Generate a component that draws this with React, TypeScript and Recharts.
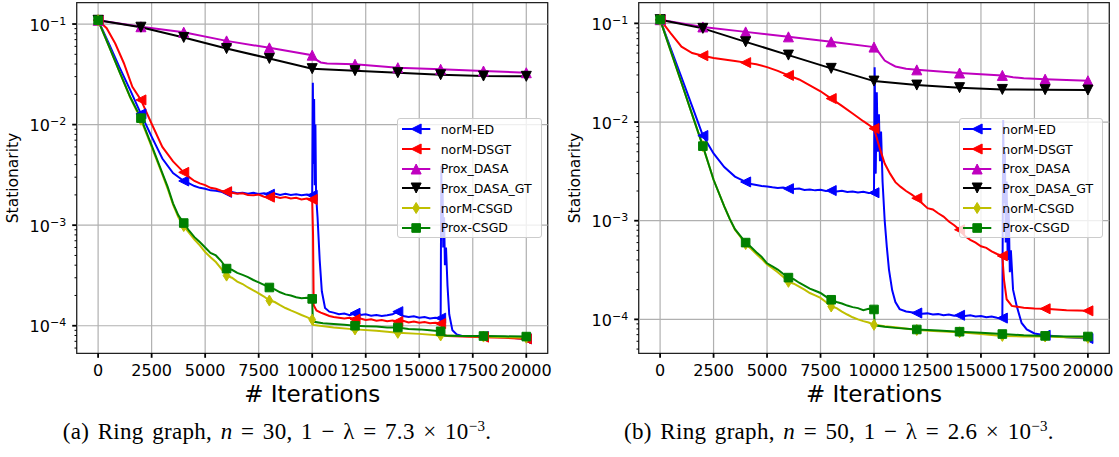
import {
  LineChart,
  Line,
  XAxis,
  YAxis,
  CartesianGrid,
  ReferenceLine,
  ReferenceArea,
} from "recharts";

type Pt = [number, number];

// ---- axis ticks ----
const xTicks = [0, 2500, 5000, 7500, 10000, 12500, 15000, 17500, 20000];
const yMajor = [1e-4, 1e-3, 1e-2, 1e-1];
const yMinor = [
  5e-5, 6e-5, 7e-5, 8e-5, 9e-5,
  2e-4, 3e-4, 4e-4, 5e-4, 6e-4, 7e-4, 8e-4, 9e-4,
  2e-3, 3e-3, 4e-3, 5e-3, 6e-3, 7e-3, 8e-3, 9e-3,
  2e-2, 3e-2, 4e-2, 5e-2, 6e-2, 7e-2, 8e-2, 9e-2,
];

// ---- (a) ring graph, n = 30 ----
const edA: Pt[] = [
  [0, 0.109], [500, 0.064], [1000, 0.037], [1500, 0.022], [2000, 0.0128], [2500, 7.6e-3],
  [3000, 4.6e-3], [3500, 3.3e-3], [4000, 2.75e-3], [4250, 2.6e-3], [4500, 2.45e-3], [4750, 2.35e-3],
  [5000, 2.3e-3], [5250, 2.22e-3], [5500, 2.2e-3], [5750, 2.15e-3], [6000, 2.12e-3], [6250, 2.14e-3],
  [6500, 2.08e-3], [6750, 2.1e-3], [7000, 2.05e-3], [7250, 2.1e-3], [7500, 2.04e-3], [7750, 2.08e-3],
  [8000, 2.03e-3], [8250, 2.06e-3], [8500, 2.0e-3], [8750, 2.05e-3], [9000, 2.0e-3], [9250, 2.03e-3],
  [9500, 1.98e-3], [9750, 2.02e-3], [10000, 1.98e-3], [10030, 0.026], [10060, 4e-3], [10090, 0.018],
  [10120, 2.5e-3], [10150, 0.01], [10180, 2.0e-3], [10250, 1.2e-3], [10350, 4.5e-4], [10450, 2.2e-4],
  [10600, 1.5e-4], [10800, 1.38e-4], [11000, 1.35e-4], [11250, 1.3e-4], [11500, 1.32e-4], [11750, 1.27e-4],
  [12000, 1.33e-4], [12100, 1.4e-4], [12250, 1.28e-4], [12500, 1.3e-4], [12750, 1.26e-4], [13000, 1.28e-4],
  [13250, 1.25e-4], [13500, 1.27e-4], [13750, 1.3e-4], [14000, 1.38e-4], [14250, 1.25e-4], [14500, 1.22e-4],
  [14750, 1.24e-4], [15000, 1.2e-4], [15250, 1.22e-4], [15500, 1.18e-4], [15750, 1.2e-4], [16000, 1.19e-4],
  [16030, 3.9e-3], [16060, 1.0e-3], [16090, 2.5e-3], [16120, 6e-4], [16160, 1.2e-3], [16200, 4e-4],
  [16250, 6e-4], [16320, 2.5e-4], [16400, 1.3e-4], [16550, 9.0e-5], [16750, 8.2e-5], [17000, 7.9e-5],
  [18000, 7.8e-5], [19000, 7.7e-5], [20000, 7.4e-5],
];
const dsgtA: Pt[] = [
  [0, 0.109], [400, 0.091], [800, 0.064], [1200, 0.041], [1600, 0.0238], [2000, 0.0176], [2500, 0.0102],
  [3000, 6.0e-3], [3500, 4.3e-3], [4000, 3.35e-3], [4250, 3.0e-3], [4500, 2.75e-3], [4750, 2.6e-3],
  [5000, 2.5e-3], [5250, 2.35e-3], [5500, 2.3e-3], [5750, 2.2e-3], [6000, 2.15e-3], [6250, 2.1e-3],
  [6500, 2.05e-3], [6750, 2.08e-3], [7000, 2.0e-3], [7250, 1.98e-3], [7500, 2.02e-3], [7750, 1.92e-3],
  [8000, 1.9e-3], [8250, 1.93e-3], [8500, 1.86e-3], [8750, 1.9e-3], [9000, 1.84e-3], [9250, 1.87e-3],
  [9500, 1.8e-3], [9750, 1.84e-3], [10000, 1.8e-3], [10040, 8e-4], [10070, 1.6e-4], [10200, 1.42e-4],
  [10400, 1.35e-4], [10600, 1.3e-4], [10800, 1.25e-4], [11000, 1.22e-4], [11250, 1.2e-4], [11500, 1.18e-4],
  [11750, 1.2e-4], [12000, 1.16e-4], [12250, 1.18e-4], [12500, 1.14e-4], [12750, 1.16e-4], [13000, 1.12e-4],
  [13250, 1.14e-4], [13500, 1.11e-4], [13750, 1.13e-4], [14000, 1.1e-4], [14250, 1.12e-4], [14500, 1.08e-4],
  [14750, 1.1e-4], [15000, 1.07e-4], [15250, 1.09e-4], [15500, 1.06e-4], [15750, 1.07e-4], [16000, 1.05e-4],
  [16050, 1.15e-4], [16100, 8.2e-5], [16300, 7.9e-5], [17000, 7.8e-5], [18000, 7.7e-5], [19000, 7.6e-5],
  [20000, 7.4e-5],
];
const dasaA: Pt[] = [
  [0, 0.109], [2000, 0.094], [4000, 0.083], [6000, 0.068], [8000, 0.058], [10000, 0.049], [10200, 0.044],
  [10400, 0.0415], [10700, 0.0405], [12000, 0.0398], [14000, 0.0368], [16000, 0.0355], [18000, 0.0341],
  [20000, 0.0328],
];
const dasaGtA: Pt[] = [
  [0, 0.109], [2000, 0.093], [4000, 0.0736], [6000, 0.057], [8000, 0.0455], [10000, 0.036], [12000, 0.0344],
  [14000, 0.0328], [16000, 0.0313], [18000, 0.0304], [20000, 0.0302],
];
const csgdA: Pt[] = [
  [0, 0.109], [500, 0.0605], [1000, 0.0335], [1500, 0.0186], [2000, 0.0112], [2500, 6.0e-3], [3000, 3.2e-3],
  [3250, 2.3e-3], [3500, 1.6e-3], [3750, 1.2e-3], [4000, 9.8e-4], [4250, 8.4e-4], [4500, 7.2e-4],
  [4750, 6.3e-4], [5000, 5.4e-4], [5250, 4.8e-4], [5500, 4.3e-4], [5750, 3.7e-4], [6000, 3.15e-4],
  [6250, 3.0e-4], [6500, 2.75e-4], [6750, 2.6e-4], [7000, 2.4e-4], [7250, 2.25e-4], [7500, 2.1e-4],
  [7750, 1.95e-4], [8000, 1.78e-4], [8250, 1.72e-4], [8500, 1.6e-4], [8750, 1.5e-4], [9000, 1.42e-4],
  [9250, 1.35e-4], [9500, 1.28e-4], [9750, 1.22e-4], [10000, 1.15e-4], [10050, 1.02e-4], [11000, 9.6e-5],
  [12000, 9.2e-5], [13000, 8.9e-5], [14000, 8.5e-5], [15000, 8.3e-5], [16000, 8.0e-5], [17000, 7.9e-5],
  [18000, 7.8e-5], [19000, 7.7e-5], [20000, 7.6e-5],
];
const proxA: Pt[] = [
  [0, 0.109], [500, 0.0605], [1000, 0.0335], [1500, 0.0188], [2000, 0.0116], [2500, 6.2e-3], [3000, 3.3e-3],
  [3250, 2.4e-3], [3500, 1.65e-3], [3750, 1.25e-3], [4000, 1.05e-3], [4250, 8.8e-4], [4500, 7.6e-4],
  [4750, 6.8e-4], [5000, 6.0e-4], [5250, 5.3e-4], [5500, 5.0e-4], [5750, 4.4e-4], [6000, 3.7e-4],
  [6250, 3.6e-4], [6500, 3.35e-4], [6750, 3.2e-4], [7000, 3.05e-4], [7250, 2.85e-4], [7500, 2.7e-4],
  [7750, 2.55e-4], [8000, 2.4e-4], [8250, 2.3e-4], [8500, 2.15e-4], [8750, 2.05e-4], [9000, 2.0e-4],
  [9250, 1.92e-4], [9500, 1.88e-4], [9750, 1.9e-4], [10000, 1.85e-4], [10030, 1.1e-4], [10500, 1.06e-4],
  [11000, 1.04e-4], [11500, 1.02e-4], [12000, 1.0e-4], [12500, 9.9e-5], [13000, 9.8e-5], [13500, 9.6e-5],
  [14000, 9.6e-5], [14500, 9.3e-5], [15000, 9.2e-5], [15500, 9.0e-5], [16000, 8.8e-5], [16030, 8.0e-5],
  [17000, 7.9e-5], [18000, 7.9e-5], [19000, 7.85e-5], [20000, 7.8e-5],
];

// ---- (b) ring graph, n = 50 ----
const edB: Pt[] = [
  [0, 0.109], [500, 0.0556], [1000, 0.0283], [1500, 0.0144], [2000, 7.3e-3], [2500, 4.8e-3], [3000, 3.5e-3],
  [3500, 2.8e-3], [4000, 2.47e-3], [4250, 2.35e-3], [4500, 2.3e-3], [4750, 2.25e-3], [5000, 2.22e-3],
  [5250, 2.18e-3], [5500, 2.15e-3], [5750, 2.17e-3], [6000, 2.11e-3], [6250, 2.09e-3], [6500, 2.12e-3],
  [6750, 2.05e-3], [7000, 2.07e-3], [7250, 2.03e-3], [7500, 2.06e-3], [7750, 2.0e-3], [8000, 2.02e-3],
  [8250, 1.98e-3], [8500, 2.01e-3], [8750, 1.95e-3], [9000, 1.98e-3], [9250, 1.93e-3], [9500, 1.96e-3],
  [9750, 1.91e-3], [10000, 1.92e-3], [10030, 0.036], [10080, 3e-3], [10130, 0.02], [10180, 5e-3],
  [10230, 0.012], [10280, 4e-3], [10330, 8e-3], [10400, 2.5e-3], [10500, 1.0e-3], [10600, 5.4e-4],
  [10700, 3.2e-4], [10850, 1.97e-4], [11000, 1.5e-4], [11200, 1.27e-4], [11500, 1.2e-4], [11750, 1.18e-4],
  [12000, 1.16e-4], [12250, 1.14e-4], [12500, 1.15e-4], [12750, 1.12e-4], [13000, 1.13e-4], [13250, 1.1e-4],
  [13500, 1.12e-4], [13750, 1.09e-4], [14000, 1.1e-4], [14250, 1.08e-4], [14500, 1.1e-4], [14750, 1.07e-4],
  [15000, 1.08e-4], [15250, 1.05e-4], [15500, 1.07e-4], [15750, 1.04e-4], [16000, 1.03e-4], [16040, 0.0105],
  [16080, 1.5e-3], [16120, 5e-3], [16160, 6e-4], [16200, 2.5e-3], [16250, 4e-4], [16300, 1.2e-3],
  [16350, 3e-4], [16400, 5e-4], [16500, 2.0e-4], [16670, 1.37e-4], [16900, 9.2e-5], [17140, 7.9e-5],
  [17500, 7.2e-5], [18000, 6.9e-5], [19000, 6.6e-5], [20000, 6.4e-5],
];
const dsgtB: Pt[] = [
  [0, 0.109], [250, 0.093], [500, 0.079], [1000, 0.058], [1500, 0.05], [2000, 0.047], [2500, 0.0445],
  [3000, 0.043], [3500, 0.0415], [4000, 0.04], [4500, 0.0385], [5000, 0.036], [5500, 0.033], [6000, 0.0297],
  [6500, 0.027], [7000, 0.0235], [7500, 0.0205], [8000, 0.0173], [8500, 0.0146], [9000, 0.0122],
  [9500, 0.0102], [10000, 8.6e-3], [10250, 5.6e-3], [10500, 3.8e-3], [10750, 3.0e-3], [11000, 2.46e-3],
  [11250, 2.2e-3], [11500, 2.0e-3], [11750, 1.85e-3], [12000, 1.69e-3], [12250, 1.5e-3], [12500, 1.34e-3],
  [12750, 1.3e-3], [13000, 1.19e-3], [13250, 1.1e-3], [13500, 9.8e-4], [13750, 9.0e-4], [14000, 8.1e-4],
  [14250, 7.0e-4], [14500, 6.4e-4], [14750, 6.0e-4], [15000, 5.5e-4], [15250, 5.3e-4], [15500, 4.9e-4],
  [15750, 4.6e-4], [16000, 4.4e-4], [16080, 2.5e-4], [16200, 1.6e-4], [16440, 1.37e-4], [17000, 1.31e-4],
  [17500, 1.29e-4], [18000, 1.28e-4], [19000, 1.24e-4], [20000, 1.22e-4],
];
const dasaB: Pt[] = [
  [0, 0.109], [2000, 0.092], [4000, 0.082], [6000, 0.073], [8000, 0.065], [10000, 0.0575], [10250, 0.05],
  [10500, 0.042], [10750, 0.039], [11000, 0.0366], [11500, 0.0347], [12000, 0.0338], [14000, 0.0314],
  [16000, 0.0297], [16500, 0.0285], [17000, 0.0278], [18000, 0.0272], [20000, 0.0262],
];
const dasaGtB: Pt[] = [
  [0, 0.109], [2000, 0.089], [4000, 0.065], [6000, 0.0477], [8000, 0.035], [10000, 0.026], [12000, 0.0237],
  [14000, 0.0223], [16000, 0.0214], [18000, 0.0213], [20000, 0.0211],
];
const csgdB: Pt[] = [
  [0, 0.109], [500, 0.0522], [1000, 0.025], [1500, 0.0119], [2000, 5.7e-3], [2500, 2.6e-3], [3000, 1.4e-3],
  [3250, 1.05e-3], [3500, 8.1e-4], [3750, 6.9e-4], [4000, 5.8e-4], [4250, 5.2e-4], [4500, 4.6e-4],
  [4750, 4.1e-4], [5000, 3.6e-4], [5250, 3.3e-4], [5500, 3.0e-4], [5750, 2.7e-4], [6000, 2.4e-4],
  [6250, 2.3e-4], [6500, 2.15e-4], [6750, 2.0e-4], [7000, 1.85e-4], [7250, 1.75e-4], [7500, 1.65e-4],
  [7750, 1.5e-4], [8000, 1.35e-4], [8250, 1.3e-4], [8500, 1.2e-4], [8750, 1.12e-4], [9000, 1.05e-4],
  [9250, 1.0e-4], [9500, 9.6e-5], [9750, 9.3e-5], [10000, 8.8e-5], [10500, 8.5e-5], [11000, 8.3e-5],
  [12000, 7.8e-5], [13000, 7.6e-5], [14000, 7.4e-5], [15000, 7.1e-5], [16000, 6.8e-5], [17000, 6.7e-5],
  [18000, 6.7e-5], [19000, 6.6e-5], [20000, 6.5e-5],
];
const proxB: Pt[] = [
  [0, 0.109], [500, 0.0522], [1000, 0.025], [1500, 0.0119], [2000, 5.7e-3], [2500, 2.6e-3], [3000, 1.4e-3],
  [3250, 1.05e-3], [3500, 8.2e-4], [3750, 7.0e-4], [4000, 6.0e-4], [4250, 5.4e-4], [4500, 4.8e-4],
  [4750, 4.3e-4], [5000, 3.7e-4], [5250, 3.45e-4], [5500, 3.2e-4], [5750, 2.9e-4], [6000, 2.65e-4],
  [6250, 2.55e-4], [6500, 2.35e-4], [6750, 2.2e-4], [7000, 2.05e-4], [7250, 1.95e-4], [7500, 1.85e-4],
  [7750, 1.7e-4], [8000, 1.58e-4], [8250, 1.5e-4], [8500, 1.45e-4], [8750, 1.38e-4], [9000, 1.33e-4],
  [9250, 1.3e-4], [9500, 1.24e-4], [9750, 1.28e-4], [10000, 1.26e-4], [10030, 8.7e-5], [10500, 8.4e-5],
  [11000, 8.2e-5], [12000, 7.9e-5], [13000, 7.7e-5], [14000, 7.5e-5], [15000, 7.3e-5], [16000, 7.1e-5],
  [17000, 6.9e-5], [18000, 6.8e-5], [19000, 6.7e-5], [20000, 6.7e-5],
];

type Shape = "left" | "up" | "down" | "diamond" | "square";
type Series = { name: string; color: string; shape: Shape; data: Pt[] };

const names = ["norM-ED", "norM-DSGT", "Prox_DASA", "Prox_DASA_GT", "norM-CSGD", "Prox-CSGD"];
const colors = ["#0000ff", "#ff0000", "#bf00bf", "#000000", "#bfbf00", "#008000"];
const shapes: Shape[] = ["left", "left", "up", "down", "diamond", "square"];

const makeSeries = (sets: Pt[][]): Series[] =>
  sets.map((data, i) => ({ name: names[i], color: colors[i], shape: shapes[i], data }));

const seriesA = makeSeries([edA, dsgtA, dasaA, dasaGtA, csgdA, proxA]);
const seriesB = makeSeries([edB, dsgtB, dasaB, dasaGtB, csgdB, proxB]);

const FONT = "DejaVu Sans";

const Marker = ({ shape, cx, cy, color }: { shape: Shape; cx: number; cy: number; color: string }) => {
  let pts = "";
  if (shape === "left") pts = `${cx - 5},${cy} ${cx + 5},${cy - 5} ${cx + 5},${cy + 5}`;
  if (shape === "up") pts = `${cx},${cy - 5} ${cx - 5},${cy + 5} ${cx + 5},${cy + 5}`;
  if (shape === "down") pts = `${cx},${cy + 5} ${cx - 5},${cy - 5} ${cx + 5},${cy - 5}`;
  if (shape === "diamond") pts = `${cx},${cy - 5.5} ${cx + 3.4},${cy} ${cx},${cy + 5.5} ${cx - 3.4},${cy}`;
  if (shape === "square")
    pts = `${cx - 4.3},${cy - 4.3} ${cx + 4.3},${cy - 4.3} ${cx + 4.3},${cy + 4.3} ${cx - 4.3},${cy + 4.3}`;
  return <polygon points={pts} fill={color} stroke={color} strokeWidth={1} strokeLinejoin="miter" />;
};

// markers every 2000 iterations, like markevery
const dotFor = (shape: Shape, color: string) => (props: any) => {
  const { cx, cy, payload, index } = props;
  if (cx == null || cy == null || payload.it % 2000 !== 0) return <g key={`n${index}`} />;
  return (
    <g key={`m${index}`}>
      <Marker shape={shape} cx={cx} cy={cy} color={color} />
    </g>
  );
};

const LogTick = (props: any) => {
  const { x, y, payload } = props;
  const v = payload.value;
  const e = Math.round(Math.log10(v));
  const major = Math.abs(Math.log10(v) - e) < 1e-6;
  if (!major) return <line x1={x - 2.2} x2={x} y1={y} y2={y} stroke="#000" strokeWidth={1} />;
  return (
    <g>
      <line x1={x - 4.5} x2={x} y1={y} y2={y} stroke="#000" strokeWidth={1.8} />
      <text x={x - 10.5} y={y + 6.5} textAnchor="end" fontFamily={FONT} fontSize={16} fill="#000">
        10
        <tspan dy={-6} fontSize={11}>{`\u2212${-e}`}</tspan>
      </text>
    </g>
  );
};

const Panel = ({
  left,
  width,
  plotLeft,
  plotRight,
  yDomain,
  series,
}: {
  left: number;
  width: number;
  plotLeft: number;
  plotRight: number;
  yDomain: [number, number];
  series: Series[];
}) => {
  const ticks = [...yMinor, ...yMajor].filter((t) => t >= yDomain[0] && t <= yDomain[1]);
  return (
    <div style={{ position: "absolute", left, top: 0 }}>
      <LineChart
        width={width}
        height={400}
        margin={{ top: 2.7, right: width - plotRight, bottom: 16.7, left: 0 }}
      >
        <CartesianGrid horizontal={false} stroke="#b0b0b0" strokeWidth={1.2} />
        {yMajor.map((v) => (
          <ReferenceLine key={v} y={v} stroke="#b0b0b0" strokeWidth={1.2} />
        ))}
        <XAxis
          dataKey="it"
          type="number"
          domain={[-1000, 21000]}
          ticks={xTicks}
          interval={0}
          allowDataOverflow
          axisLine={false}
          tickSize={4.5}
          tickMargin={6.5}
          tickLine={{ stroke: "#000", strokeWidth: 1.8 }}
          tick={{ fontSize: 16, fill: "#000", fontFamily: FONT }}
          height={30}
        />
        <YAxis
          dataKey="v"
          scale="log"
          domain={yDomain}
          allowDataOverflow
          ticks={ticks}
          interval={0}
          axisLine={false}
          tickLine={false}
          tickSize={0}
          tickMargin={0}
          tick={<LogTick />}
          width={plotLeft}
        />
        {series.map((s) => (
          <Line
            key={s.name}
            name={s.name}
            data={s.data.map(([it, v]) => ({ it, v }))}
            dataKey="v"
            type="linear"
            stroke={s.color}
            strokeWidth={2}
            dot={dotFor(s.shape, s.color)}
            activeDot={false}
            isAnimationActive={false}
          />
        ))}
        <ReferenceArea
          x1={-1000}
          x2={21000}
          y1={yDomain[0]}
          y2={yDomain[1]}
          fill="none"
          stroke="#222"
          strokeWidth={1.2}
        />
      </LineChart>
    </div>
  );
};

const Legend = ({ left, top, series }: { left: number; top: number; series: Series[] }) => (
  <div
    style={{
      position: "absolute",
      left,
      top,
      width: 144.7,
      height: 120,
      boxSizing: "border-box",
      border: "1px solid #cccccc",
      borderRadius: 3,
      background: "rgba(255,255,255,0.8)",
      paddingTop: 0.2,
    }}
  >
    {series.map((s) => (
      <div key={s.name} style={{ display: "flex", alignItems: "center", height: 19.7 }}>
        <svg width={28.3} height={12} style={{ marginLeft: 3.7, overflow: "visible" }}>
          <line x1={0} x2={28.3} y1={6} y2={6} stroke={s.color} strokeWidth={2} />
          <Marker shape={s.shape} cx={14.15} cy={6} color={s.color} />
        </svg>
        <span style={{ marginLeft: 10.7, fontFamily: FONT, fontSize: 12.5, color: "#000", whiteSpace: "nowrap" }}>
          {s.name}
        </span>
      </div>
    ))}
  </div>
);

const Caption = ({ x, label, n, gap }: { x: number; label: string; n: string; gap: string }) => (
  <text
    x={x}
    y={439}
    textAnchor="middle"
    fontFamily="Liberation Serif"
    fontSize={23}
    letterSpacing={0.3}
    wordSpacing={2.5}
    fill="#000"
  >
    {`(${label}) Ring graph, `}
    <tspan fontStyle="italic">n</tspan>
    {` = ${n}, 1 \u2212 \u03bb = ${gap} \u00d7 10`}
    <tspan dy={-8} fontSize={15}>{"\u22123"}</tspan>
    <tspan dy={8}>.</tspan>
  </text>
);

export default function App() {
  return (
    <div style={{ position: "absolute", left: 0, top: 0, width: 1119, height: 457, background: "#fff" }}>
      <Panel left={0} width={560} plotLeft={76.7} plotRight={547.7} yDomain={[5.32e-5, 0.163]} series={seriesA} />
      <Panel left={560} width={559} plotLeft={78.7} plotRight={549.3} yDomain={[4.53e-5, 0.162]} series={seriesB} />
      <Legend left={397} top={118.3} series={seriesA} />
      <Legend left={958.6} top={118.3} series={seriesB} />
      <svg
        width={1119}
        height={457}
        style={{ position: "absolute", left: 0, top: 0, pointerEvents: "none" }}
      >
        <text transform="rotate(-90, 18, 178)" x={18} y={178} textAnchor="middle" fontFamily={FONT} fontSize={15.5}>
          Stationarity
        </text>
        <text transform="rotate(-90, 580, 178)" x={580} y={178} textAnchor="middle" fontFamily={FONT} fontSize={15.5}>
          Stationarity
        </text>
        <text x={312.2} y={401.5} textAnchor="middle" fontFamily={FONT} fontSize={23}>
          # Iterations
        </text>
        <text x={874} y={401.5} textAnchor="middle" fontFamily={FONT} fontSize={23}>
          # Iterations
        </text>
        <Caption x={277} label="a" n="30" gap="7.3" />
        <Caption x={839} label="b" n="50" gap="2.6" />
      </svg>
    </div>
  );
}
